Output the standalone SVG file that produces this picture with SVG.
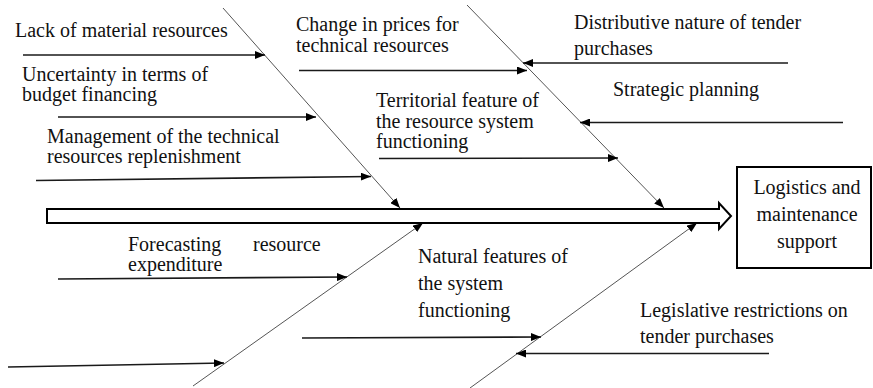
<svg xmlns="http://www.w3.org/2000/svg" width="873" height="388" viewBox="0 0 873 388" font-family="Liberation Serif, Times New Roman, DejaVu Serif, serif">
<defs>
<style>
text{font-family:'Liberation Serif','Times New Roman','DejaVu Serif',serif}
.t{font-size:20px;fill:#111}
.tc{text-anchor:middle}
.h{stroke:#1a1a1a;stroke-width:1.6;fill:none}
.d{stroke:#555;stroke-width:1;fill:none}
</style>
<marker id="ah" markerUnits="userSpaceOnUse" markerWidth="11" markerHeight="8" refX="10" refY="4" orient="auto">
<path d="M0,0 L10,4 L0,8 z" fill="#000"/>
</marker>
</defs>
<rect width="873" height="388" fill="#fff"/>

<g id="connectors">
<line class="d" x1="223" y1="8" x2="400" y2="208" marker-end="url(#ah)"/>
<line class="d" x1="467" y1="5" x2="664" y2="208" marker-end="url(#ah)"/>
<line class="d" x1="193" y1="386" x2="423" y2="223" marker-end="url(#ah)"/>
<line class="d" x1="470" y1="388" x2="697" y2="223" marker-end="url(#ah)"/>
<line class="h" x1="23" y1="55" x2="265" y2="55" marker-end="url(#ah)"/>
<line class="h" x1="58" y1="117" x2="316" y2="117" marker-end="url(#ah)"/>
<line class="h" x1="36" y1="180.5" x2="371" y2="176.5" marker-end="url(#ah)"/>
<line class="h" x1="299" y1="70.5" x2="527" y2="70.5" marker-end="url(#ah)"/>
<line class="h" x1="788" y1="63" x2="523" y2="63" marker-end="url(#ah)"/>
<line class="h" x1="379" y1="158.5" x2="618" y2="158" marker-end="url(#ah)"/>
<line class="h" x1="843" y1="122.5" x2="580" y2="122.5" marker-end="url(#ah)"/>
<line class="h" x1="58" y1="279" x2="347" y2="277" marker-end="url(#ah)"/>
<line class="h" x1="8" y1="367" x2="224" y2="363" marker-end="url(#ah)"/>
<line class="h" x1="302" y1="338" x2="541" y2="337" marker-end="url(#ah)"/>
<line class="h" x1="769" y1="353.5" x2="516" y2="353.5" marker-end="url(#ah)"/>
</g>

<g id="spine">
<polygon points="47,209 719,209 719,203 731,216 719,229 719,223 47,223" fill="#fff" stroke="#000" stroke-width="2" stroke-linejoin="miter"/>
</g>

<g id="effect">
<rect x="737" y="167" width="134" height="101" fill="#fff" stroke="#000" stroke-width="2"/>
<text class="t tc" x="807" y="194">Logistics and</text>
<text class="t tc" x="807" y="221">maintenance</text>
<text class="t tc" x="807" y="248">support</text>
</g>

<g id="cause-lack">
<text class="t" x="15" y="37">Lack of material resources</text>
</g>
<g id="cause-uncertainty">
<text class="t" x="22" y="81">Uncertainty in terms of</text>
<text class="t" x="22" y="101">budget financing</text>
</g>
<g id="cause-management">
<text class="t" x="47" y="143">Management of the technical</text>
<text class="t" x="47" y="163">resources replenishment</text>
</g>
<g id="cause-prices">
<text class="t" x="296" y="31">Change in prices for</text>
<text class="t" x="296" y="52">technical resources</text>
</g>
<g id="cause-territorial">
<text class="t" x="376" y="107">Territorial feature of</text>
<text class="t" x="376" y="128">the resource system</text>
<text class="t" x="376" y="148">functioning</text>
</g>
<g id="cause-distributive">
<text class="t" x="574" y="29">Distributive nature of tender</text>
<text class="t" x="574" y="55">purchases</text>
</g>
<g id="cause-strategic">
<text class="t" x="613" y="96">Strategic planning</text>
</g>
<g id="cause-forecasting">
<text class="t" y="251"><tspan x="128">Forecasting</tspan><tspan x="253">resource</tspan></text>
<text class="t" x="128" y="271">expenditure</text>
</g>
<g id="cause-natural">
<text class="t" x="418" y="263">Natural features of</text>
<text class="t" x="418" y="290">the system</text>
<text class="t" x="418" y="317">functioning</text>
</g>
<g id="cause-legislative">
<text class="t" x="640" y="317">Legislative restrictions on</text>
<text class="t" x="640" y="343">tender purchases</text>
</g>
</svg>
